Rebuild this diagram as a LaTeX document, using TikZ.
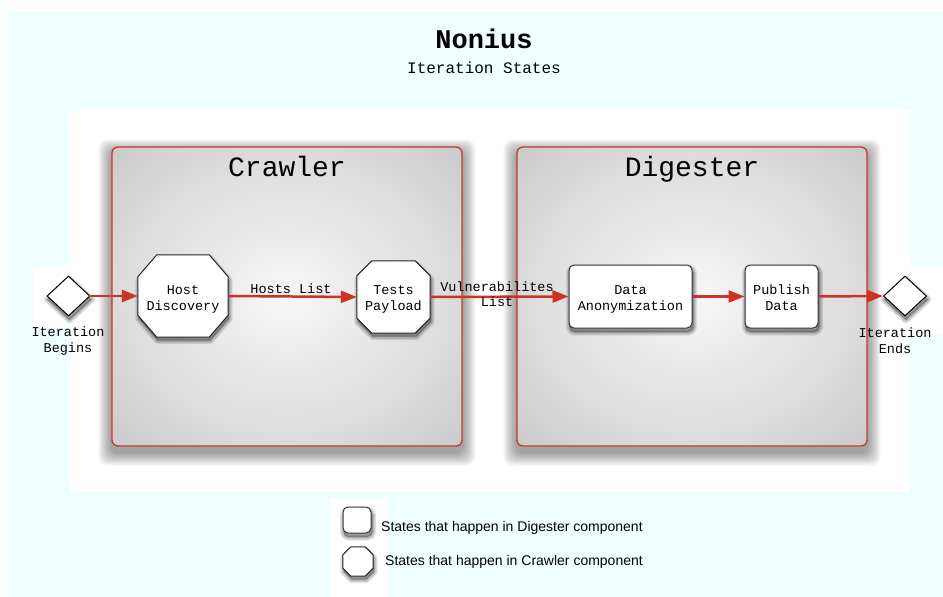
\documentclass[tikz,border=0pt]{standalone}
\usepackage{fontspec}
\newfontfamily\cour{Liberation Mono}
\newfontfamily\arial{Liberation Sans}
\usetikzlibrary{arrows.meta,shapes.geometric,calc}
\definecolor{bgcyan}{RGB}{239,255,255}
\definecolor{boxred}{RGB}{200,55,45}
\definecolor{arrred}{RGB}{204,51,34}
\definecolor{shadeC}{RGB}{247,247,247}
\definecolor{shadeM}{RGB}{222,222,222}
\definecolor{shadeE}{RGB}{180,180,180}
\definecolor{shadeK}{RGB}{150,150,150}
\pgfdeclareradialshading{boxshade}{\pgfpoint{0bp}{0bp}}{color(0bp)=(shadeC); color(22bp)=(shadeM); color(50bp)=(shadeE); color(72bp)=(shadeK)}
\pgfdeclarelayer{bg}
\pgfdeclarelayer{boxshadow}
\pgfdeclarelayer{boxes}
\pgfdeclarelayer{shadow}
\pgfdeclarelayer{mid}
\pgfsetlayers{bg,boxshadow,boxes,shadow,mid,main}
% octagon around a named node: #1 name, #2 x chamfer, #3 y chamfer
\newcommand\octpath[3]{($(#1.north west)+(#2,0)$) -- ($(#1.north east)+(-#2,0)$) -- ($(#1.north east)+(0,#3)$) -- ($(#1.south east)+(0,-#3)$) -- ($(#1.south east)+(-#2,0)$) -- ($(#1.south west)+(#2,0)$) -- ($(#1.south west)+(0,-#3)$) -- ($(#1.north west)+(0,#3)$) -- cycle}
\newcommand\diapath[1]{(#1.north) -- (#1.east) -- (#1.south) -- (#1.west) -- cycle}
\newcommand\rrpath[1]{(#1.north west) rectangle (#1.south east)}
% soft shadow of a large box
\newcommand\bigshadow[1]{\foreach \i in {1,...,13}{\fill[black, opacity=0.03, rounded corners=9pt] ($(#1.north west)+(-1*\i,-1*\i+6)$) rectangle ($(#1.south east)+(1*\i,1*\i+6)$);}}
\tikzset{
  compbox/.style={draw=boxred, line width=1.3pt, rounded corners=6pt, shading=boxshade,
    minimum width=350pt, minimum height=299pt, inner sep=0pt},
  comptitle/.style={font=\cour\fontsize{28}{30}\selectfont, anchor=base, inner sep=0pt},
  statetext/.style={font=\cour\fontsize{13.5}{16}\selectfont, align=center, inner sep=0pt},
  shapeonly/.style={inner sep=0pt},
  roundstate/.style={shapeonly, draw=black!80, line width=1pt, fill=white, rounded corners=5pt},
  octfill/.style={draw=black!85, line width=1pt, fill=white},
  gate/.style={diamond, draw=black, line width=1pt, fill=white, minimum width=43pt, minimum height=40pt, inner sep=0pt},
  softshadow/.style={draw=black, fill=black, opacity=0.11, line join=round, line width=#1,
    transform canvas={xshift=1pt, yshift=-3.5pt}},
  flow/.style={draw=arrred, line width=2.5pt, -{Triangle[length=16pt,width=12pt]}},
  flowlabel/.style={font=\cour\fontsize{13.5}{15}\selectfont, align=center, inner sep=0pt},
  legendtext/.style={font=\arial\fontsize{14}{16}\selectfont, anchor=west, inner sep=0pt}
}
\begin{document}
\begin{tikzpicture}[x=1pt,y=-1pt]
\useasboundingbox (0,0) rectangle (943,597);
\begin{pgfonlayer}{bg}
  \fill[bgcyan] (8,12) rectangle (943,597);
  \fill[white] (70,110) rectangle (910,492);
  \fill[white] (33,267) rectangle (70,328);
  \fill[white] (910,267) rectangle (943,335);
  \fill[white] (330,498) rectangle (387,597);
\end{pgfonlayer}
\begin{pgfonlayer}{boxes}
  \node[compbox] (crawler) at (287,296.5) {};
  \node[compbox] (digester) at (692,296.5) {};
\end{pgfonlayer}
\begin{pgfonlayer}{boxshadow}
  \bigshadow{crawler}
  \bigshadow{digester}
\end{pgfonlayer}

% titles
\node[font=\cour\bfseries\fontsize{27}{30}\selectfont, anchor=base, inner sep=0pt] (title) at (484,48) {Nonius};
\node[font=\cour\fontsize{16}{18}\selectfont, anchor=base, inner sep=0pt] (subtitle) at (484,73) {Iteration States};
\node[comptitle] (crawlertitle) at (287,176) {Crawler};
\node[comptitle] (digestertitle) at (692,176) {Digester};

% states (shapes)
\node[gate] (begin) at (68.5,296) {};
\node[shapeonly, minimum width=90pt, minimum height=82pt] (hd) at (183,296) {};
\node[shapeonly, minimum width=73pt, minimum height=72pt] (tp) at (393.5,297) {};
\node[roundstate, minimum width=123pt, minimum height=63pt] (da) at (630.5,296.5) {};
\node[roundstate, minimum width=73pt, minimum height=63pt] (pd) at (781.5,296.5) {};
\node[gate] (end) at (905,296) {};
% state texts
\node[statetext] (beginlabel) at (68,341) {Iteration\\Begins};
\node[statetext] (hdtext) at ($(hd)+(0,3)$) {Host\\Discovery};
\node[statetext] (tptext) at ($(tp)+(0,2.5)$) {Tests\\Payload};
\node[statetext] (datext) at ($(da)+(0,2.5)$) {Data\\Anonymization};
\node[statetext] (pdtext) at ($(pd)+(0,1)$) {Publish\\Data};
\node[statetext] (endlabel) at (895,340.5) {Iteration\\Ends};

\begin{pgfonlayer}{mid}
  \path[octfill] \octpath{hd}{19}{22};
  \path[octfill] \octpath{tp}{15}{15};
\end{pgfonlayer}

% connectors
\draw[flow] (begin.east) -- (hd.west);
\draw[flow] (hd.east) -- (tp.west);
\draw[flow] (tp.east) -- (da.west);
\draw[flow] (da.east) -- (pd.west);
\draw[flow] (pd.east) -- (end.west);
\node[flowlabel, anchor=base] (hostslist) at (291,293.5) {Hosts List};
\node[flowlabel, anchor=base] (vulnlist) at (497,291) {Vulnerabilites};
\node[flowlabel, anchor=base] (vulnlist2) at (497,306) {List};

% legend
\node[roundstate, minimum width=28pt, minimum height=26pt, rounded corners=5pt] (legrect) at (357,520) {};
\node[shapeonly, minimum width=30pt, minimum height=29pt] (legoct) at (358,561.5) {};
\begin{pgfonlayer}{mid}
  \path[octfill] \octpath{legoct}{8}{8};
\end{pgfonlayer}
\node[legendtext] (legd) at (381,527.5) {States that happen in Digester component};
\node[legendtext] (legc) at (385,561.5) {States that happen in Crawler component};

% small shadows
\begin{pgfonlayer}{shadow}
  \foreach \w in {7pt,4.5pt,2pt}{
    \path[softshadow=\w] \diapath{begin};
    \path[softshadow=\w] \diapath{end};
    \path[softshadow=\w] \octpath{hd}{19}{22};
    \path[softshadow=\w] \octpath{tp}{15}{15};
    \path[softshadow=\w] \octpath{legoct}{8}{8};
    \path[softshadow=\w, rounded corners=5pt] \rrpath{da};
    \path[softshadow=\w, rounded corners=5pt] \rrpath{pd};
    \path[softshadow=\w, rounded corners=5pt] \rrpath{legrect};
  }
\end{pgfonlayer}
\end{tikzpicture}
\end{document}
